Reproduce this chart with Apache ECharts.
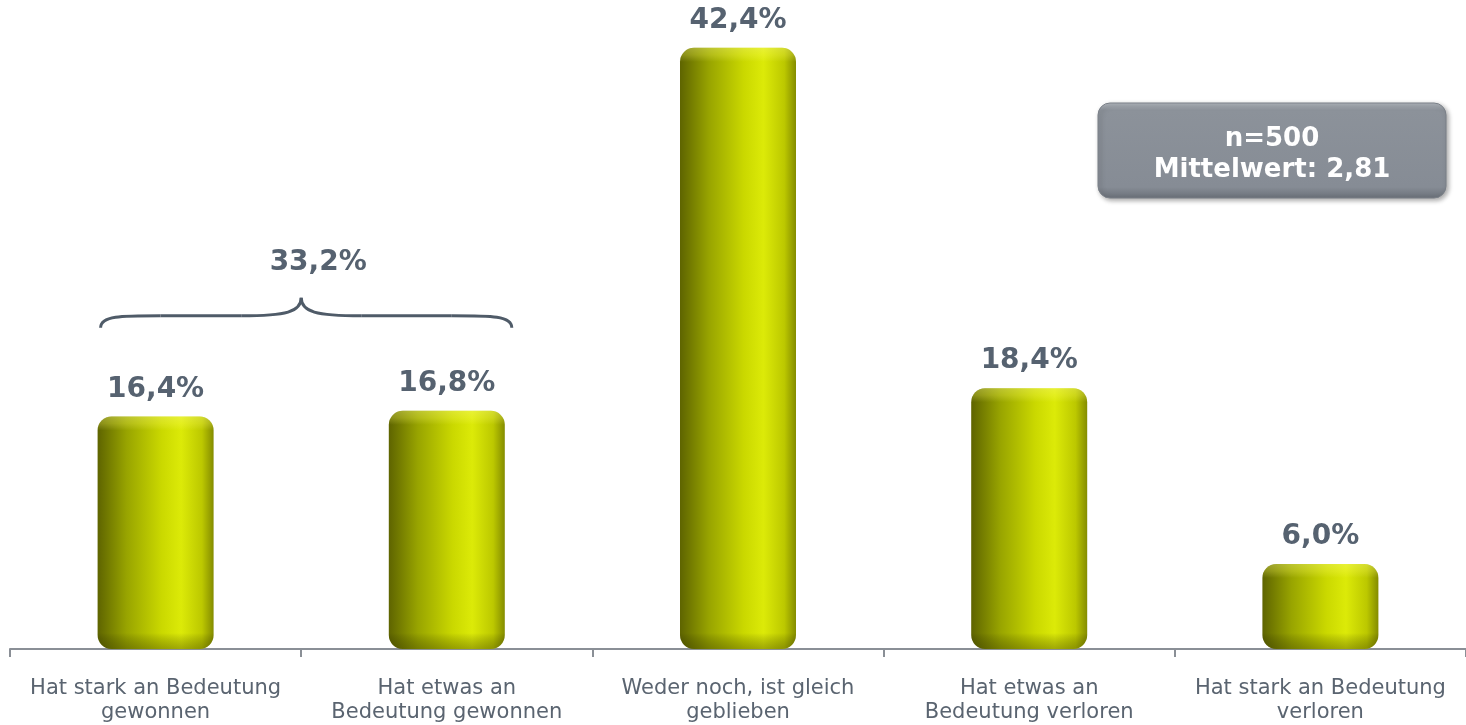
<!DOCTYPE html>
<html><head><meta charset="utf-8">
<script src="https://cdn.jsdelivr.net/npm/echarts@6/dist/echarts.min.js"></script>
<style>html,body{margin:0;padding:0;background:#fff}#c{width:1466px;height:725px}</style>
</head><body><div id="c"></div>
<script>
const categories = ['Hat stark an Bedeutung\ngewonnen','Hat etwas an\nBedeutung gewonnen','Weder noch, ist gleich\ngeblieben','Hat etwas an\nBedeutung verloren','Hat stark an Bedeutung\nverloren'];
const values = [16.4, 16.8, 42.4, 18.4, 6.0];
const groupLabel = '33,2%';
const boxLines = ['n=500', 'Mittelwert: 2,81'];

const fmt = v => v.toFixed(1).replace('.', ',') + '%';
const chart = echarts.init(document.getElementById('c'));
const labelColor = '#566270';
const Y_MAX = 45, PLOT_H = 639;
const shade = values.map(v => {
  const h = v / Y_MAX * PLOT_H;
  const t = Math.min(0.4, 14 / h), b = Math.min(0.4, 16 / h);
  return {value: v, itemStyle: {color: {type: 'linear', x: 0, y: 0, x2: 0, y2: 1, colorStops: [
    {offset: 0, color: 'rgba(255,255,140,0.35)'}, {offset: t * 0.5, color: 'rgba(255,255,100,0.25)'},
    {offset: t, color: 'rgba(255,255,120,0)'},
    {offset: 1 - b, color: 'rgba(0,0,0,0)'}, {offset: 1, color: 'rgba(50,50,0,0.35)'}]}}};
});
chart.setOption({
  animation: false,
  grid: {left: 10, right: 0, top: 11, bottom: 75},
  xAxis: {
    type: 'category', data: categories,
    axisLine: {lineStyle: {color: '#8a8f96', width: 2}},
    axisTick: {show: true, length: 8, lineStyle: {color: '#8a8f96', width: 2}},
    axisLabel: {interval: 0, color: '#5a6470', fontFamily: 'DejaVu Sans', fontSize: 21, lineHeight: 24, margin: 28}
  },
  yAxis: {type: 'value', min: 0, max: Y_MAX, show: false, splitLine: {show: false}},
  series: [{
    type: 'bar', data: values, barWidth: 116,
    itemStyle: {
      borderRadius: 14,
      color: {type: 'linear', x: 0, y: 0, x2: 1, y2: 0, colorStops: [
        {offset: 0, color: '#5e6400'}, {offset: 0.25, color: '#98a400'},
        {offset: 0.55, color: '#cad800'}, {offset: 0.72, color: '#dcea08'},
        {offset: 0.9, color: '#bcc800'}, {offset: 1, color: '#848c00'}]}
    },
    label: {show: true, position: 'top', distance: 13, formatter: p => fmt(p.value),
      color: labelColor, fontFamily: 'DejaVu Sans', fontWeight: 'bold', fontSize: 28}
  }, {
    type: 'bar', data: shade, barWidth: 116, barGap: '-100%', silent: true,
    itemStyle: {borderRadius: 14}
  }]
});

function drawExtras() {
  const x0 = chart.convertToPixel({xAxisIndex: 0}, 0);
  const x1 = chart.convertToPixel({xAxisIndex: 0}, 1);
  const left = x0 - 55, right = x1 + 65;
  const mid = (x0 + x1) / 2;
  const yArm = chart.convertToPixel({yAxisIndex: 0}, 23.5);
  const top = yArm - 18, bottom = yArm + 12;
  const st = {stroke: '#4f5b68', lineWidth: 3, fill: null};
  const bx = 1098, by = 103, bw = 348, bh = 95;
  chart.setOption({graphic: [
    {type: 'bezierCurve', shape: {x1: left, y1: bottom, cpx1: left, cpy1: yArm, cpx2: left + 20, cpy2: yArm, x2: left + 60, y2: yArm}, style: st},
    {type: 'line', shape: {x1: left + 60, y1: yArm, x2: mid - 60, y2: yArm}, style: st},
    {type: 'bezierCurve', shape: {x1: mid - 60, y1: yArm, cpx1: mid - 15, cpy1: yArm, cpx2: mid, cpy2: yArm - 4, x2: mid, y2: top}, style: st},
    {type: 'bezierCurve', shape: {x1: mid, y1: top, cpx1: mid, cpy1: yArm - 4, cpx2: mid + 15, cpy2: yArm, x2: mid + 60, y2: yArm}, style: st},
    {type: 'line', shape: {x1: mid + 60, y1: yArm, x2: right - 60, y2: yArm}, style: st},
    {type: 'bezierCurve', shape: {x1: right - 60, y1: yArm, cpx1: right - 20, cpy1: yArm, cpx2: right, cpy2: yArm, x2: right, y2: bottom}, style: st},
    {type: 'text', x: mid + 17, y: top - 35, style: {text: groupLabel, fill: labelColor, font: 'bold 28px "DejaVu Sans"', textAlign: 'center', textVerticalAlign: 'middle'}},
    {type: 'rect', shape: {x: bx, y: by, width: bw, height: bh, r: 12},
      style: {fill: {type: 'linear', x: 0, y: 0, x2: 0, y2: 1, colorStops: [
        {offset: 0, color: '#b4b9c0'}, {offset: 0.08, color: '#8c929a'}, {offset: 0.88, color: '#868c95'}, {offset: 1, color: '#6a7078'}]},
        stroke: '#7a8088', lineWidth: 1, shadowBlur: 5, shadowOffsetX: 2, shadowOffsetY: 2, shadowColor: 'rgba(0,0,0,0.35)'}},
    {type: 'text', x: bx + bw / 2, y: by + 36, style: {text: boxLines[0], fill: '#ffffff', font: 'bold 26px "DejaVu Sans"', textAlign: 'center', textVerticalAlign: 'middle'}},
    {type: 'text', x: bx + bw / 2, y: by + 67, style: {text: boxLines[1], fill: '#ffffff', font: 'bold 26px "DejaVu Sans"', textAlign: 'center', textVerticalAlign: 'middle'}}
  ]});
}
drawExtras();
</script></body></html>
